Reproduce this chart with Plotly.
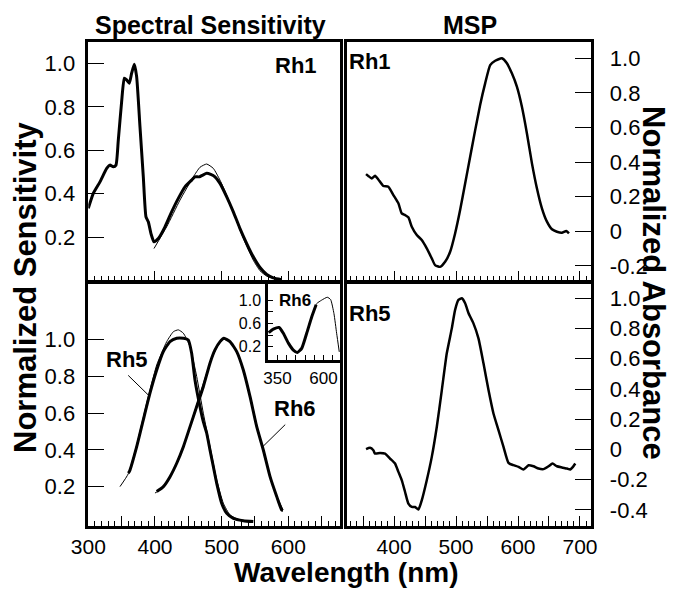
import plotly.graph_objects as go

# ---------------- data ----------------
# Top-left: Rh1 spectral sensitivity (thick = measured, thin = template)
rh1_ss_wl = [300, 307.5, 317.5, 327.6, 332.5, 337.5, 341.5, 345, 350, 354, 357.5, 361.5, 365, 369, 372.5,
             377.5, 382.5, 386.5, 390, 394, 398.5, 405, 415, 425, 435, 445, 455, 460, 466.5, 471.6, 477.6,
             483.6, 490, 497.5, 507.6, 517.5, 527.5, 537.6, 547.5, 557.5, 567.6, 577.5, 590]
rh1_ss_val = [0.333, 0.402, 0.455, 0.517, 0.532, 0.524, 0.532, 0.647, 0.824, 0.932, 0.924, 0.909, 0.955, 0.996, 0.939,
              0.709, 0.478, 0.294, 0.271, 0.217, 0.179, 0.194, 0.248, 0.317, 0.379, 0.432, 0.463, 0.478, 0.478, 0.486, 0.494,
              0.489, 0.478, 0.448, 0.386, 0.317, 0.240, 0.171, 0.110, 0.061, 0.029, 0.013, 0.005]
rh1_tpl_wl = [398.5, 417.5, 437.5, 457.5, 467.5, 477.5, 487.5, 497.5, 507.5, 517.5, 527.5, 537.5, 547.5, 557.5, 567.5, 577.5, 590]
rh1_tpl_val = [0.148, 0.248, 0.371, 0.478, 0.522, 0.537, 0.517, 0.463, 0.394, 0.317, 0.233, 0.159, 0.094, 0.046, 0.021, 0.011, 0.005]

# Bottom-left: Rh5 and Rh6 spectral sensitivity
rh5_ss_wl = [360, 362, 372.6, 382.5, 392.5, 402.6, 412.5, 422.5, 432.6, 442.5, 450, 455, 460, 467.5, 472.5, 477.6,
             482.5, 487.5, 492.6, 500, 507.6, 517.5, 532.5, 547.5]
rh5_ss_val = [0.273, 0.285, 0.417, 0.563, 0.708, 0.834, 0.934, 0.988, 1.006, 1.006, 0.997, 0.925, 0.780, 0.635, 0.553, 0.490,
              0.399, 0.309, 0.218, 0.110, 0.055, 0.028, 0.015, 0.010]
rh5_tpl_wl = [347.5, 360, 372.5, 387.5, 402.6, 417.6, 427.6, 435, 442.5, 452.5, 462.6, 472.5, 482.6, 492.6, 502.5, 512.5, 527.5, 545]
rh5_tpl_val = [0.200, 0.270, 0.426, 0.653, 0.861, 0.988, 1.042, 1.052, 1.034, 0.961, 0.798, 0.599, 0.417, 0.236, 0.110, 0.046, 0.018, 0.010]

rh6_ss_wl = [402.6, 412.6, 422.6, 432.6, 442.6, 452.6, 462.6, 472.5, 482.5, 490, 497.6, 503.5, 512.5, 522.6, 532.5,
             542.6, 552.6, 562.5, 572.6, 582.6, 590, 592]
rh6_ss_val = [0.173, 0.200, 0.254, 0.327, 0.417, 0.526, 0.635, 0.743, 0.871, 0.943, 0.988, 1.006, 0.988, 0.934, 0.834,
              0.689, 0.526, 0.399, 0.254, 0.146, 0.073, 0.070]
rh6_tpl_wl = [400, 412.6, 422.6, 432.6, 442.6, 452.6, 462.6, 472.5, 482.5, 492.5, 502.5, 512.5, 522.6, 532.5, 542.6,
              552.6, 562.5, 572.6, 582.6, 592]
rh6_tpl_val = [0.165, 0.195, 0.250, 0.325, 0.420, 0.530, 0.645, 0.760, 0.870, 0.955, 1.000, 0.990, 0.935, 0.835, 0.695,
               0.535, 0.390, 0.255, 0.150, 0.075]

# Inset: Rh6 broad-range sensitivity
ins_tpl_wl = [302, 327, 358, 381.5, 409, 436, 457.6, 481.5, 508.7, 535.9, 563, 590, 620.7, 639, 657, 671.7, 686]
ins_tpl_val = [0.44, 0.50, 0.53, 0.43, 0.26, 0.14, 0.10, 0.17, 0.43, 0.71, 0.94, 1.00, 1.05, 1.01, 0.77, 0.43, 0.11]
ins_ss_wl = [302, 327, 358, 381.5, 409, 436, 457.6, 481.5, 508.7, 535.9, 560]
ins_ss_val = [0.44, 0.50, 0.53, 0.43, 0.26, 0.14, 0.10, 0.17, 0.43, 0.71, 0.92]

# Top-right: Rh1 MSP
rh1_msp_wl = [354.8, 358.5, 364, 369.3, 374.6, 382.7, 390.8, 398.9, 407, 412.4, 417.8, 423.1, 428.6, 436.7, 444.7,
              452.8, 460.9, 466.2, 474.3, 482.4, 490.5, 498.5, 506.6, 514.7, 522.8, 530.9, 538.9, 547, 555.1,
              563.2, 574, 582.1, 590.1, 598.2, 606.3, 614.4, 622.5, 630.5, 638.6, 646.7, 654.8, 662.8, 670.9,
              677.9, 682.2]
rh1_msp_val = [0.331, 0.320, 0.306, 0.321, 0.300, 0.262, 0.258, 0.210, 0.162, 0.104, 0.094, 0.081, 0.027, -0.021, -0.050,
               -0.098, -0.156, -0.195, -0.205, -0.176, -0.118, -0.012, 0.123, 0.277, 0.431, 0.585, 0.730, 0.855, 0.961,
               0.986, 1.000, 0.971, 0.913, 0.836, 0.720, 0.566, 0.393, 0.249, 0.133, 0.056, 0.012, -0.002, -0.008,
               0.002, -0.012]

# Bottom-right: Rh5 MSP
rh5_msp_wl = [354.8, 361.2, 366.6, 369.3, 377.4, 385.5, 393.5, 401.6, 407, 412.4, 417.8, 423.1, 428.6, 433.9, 439.3,
              444.7, 452.8, 460.9, 469, 477.1, 485.1, 493.2, 498.5, 503.9, 509.4, 514.7, 520.2, 528.1, 536.2,
              544.3, 552.4, 560.4, 568.5, 576.6, 584.7, 592.7, 600.8, 608.9, 617, 625, 633.1, 641.2, 649.3,
              655.7, 662.8, 670.9, 679, 684.3, 688.7, 692.4]
rh5_msp_val = [0.002, 0.011, -0.005, -0.027, -0.023, -0.027, -0.060, -0.093, -0.148, -0.203, -0.281, -0.358, -0.380, -0.380, -0.397,
               -0.336, -0.203, -0.049, 0.150, 0.393, 0.636, 0.801, 0.923, 0.989, 1.000, 0.967, 0.901, 0.834, 0.735,
               0.570, 0.393, 0.238, 0.128, 0.017, -0.089, -0.104, -0.115, -0.132, -0.104, -0.111, -0.126, -0.130, -0.111,
               -0.093, -0.111, -0.119, -0.126, -0.132, -0.115, -0.093]

# ticks
left_x_ticks = [300, 350, 400, 450, 500, 550, 600, 650]
left_x_text = ["300", "", "400", "", "500", "", "600", ""]
right_x_ticks = [350, 400, 450, 500, 550, 600, 650, 700]
right_x_text = ["", "400", "", "500", "", "600", "", "700"]
ss_y_ticks = [0.2, 0.4, 0.6, 0.8, 1.0]
ss_y_text = ["0.2", "0.4", "0.6", "0.8", "1.0"]
msp1_y_ticks = [-0.2, 0, 0.2, 0.4, 0.6, 0.8, 1.0]
msp1_y_text = ["-0.2", "0", "0.2", "0.4", "0.6", "0.8", "1.0"]
msp5_y_ticks = [-0.4, -0.2, 0, 0.2, 0.4, 0.6, 0.8, 1.0]
msp5_y_text = ["-0.4", "-0.2", "0", "0.2", "0.4", "0.6", "0.8", "1.0"]
ins_x_ticks = [350, 400, 450, 500, 550, 600, 650]
ins_x_text = ["350", "", "", "", "", "600", ""]
ins_y_ticks = [0.2, 0.4, 0.6, 0.8, 1.0]
ins_y_text = ["0.2", "", "0.6", "", "1.0"]

# ---------------- figure ----------------
FONT = "Liberation Sans, Arial, sans-serif"
W, H = 673, 589
fig = go.Figure()

def line(x, y, xa, ya, w):
    fig.add_trace(go.Scatter(x=x, y=y, xaxis=xa, yaxis=ya, mode="lines",
                             line=dict(color="black", width=w, shape="spline", smoothing=0.5),
                             showlegend=False, hoverinfo="skip"))

line(rh1_tpl_wl, rh1_tpl_val, "x", "y", 1)
line(rh1_ss_wl, rh1_ss_val, "x", "y", 3)
line(rh5_tpl_wl, rh5_tpl_val, "x2", "y2", 1)
line(rh5_ss_wl, rh5_ss_val, "x2", "y2", 3)
line(rh6_tpl_wl, rh6_tpl_val, "x2", "y2", 1)
line(rh6_ss_wl, rh6_ss_val, "x2", "y2", 3)
line(rh1_msp_wl, rh1_msp_val, "x3", "y3", 2.5)
line(rh5_msp_wl, rh5_msp_val, "x4", "y4", 2.5)
line(ins_tpl_wl, ins_tpl_val, "x5", "y5", 1)
line(ins_ss_wl, ins_ss_val, "x5", "y5", 3)

def px_x(a, b):
    return [a / W, b / W]

def px_y(top, bot):
    return [1 - bot / H, 1 - top / H]

dom_xl = px_x(88.3, 340)
dom_xr = px_x(346.7, 590.7)
dom_yt = px_y(41.7, 280.7)
dom_yb = px_y(283.3, 526)

tickfont = dict(family=FONT, size=22, color="black")
xtickfont = dict(family=FONT, size=21, color="black")
minor_l = dict(ticks="inside", ticklen=5, tickwidth=1, tickcolor="black", tickmode="linear", tick0=300, dtick=10)

def xax(dom, rng, anchor, tv, tt, labels):
    return dict(domain=dom, range=rng, anchor=anchor, showline=True, linewidth=2.5, linecolor="black",
                mirror=True, ticks="inside", ticklen=10, tickwidth=1.2, tickcolor="black",
                tickmode="array", tickvals=tv, ticktext=tt, showticklabels=labels, automargin=False,
                showgrid=False, zeroline=False, tickfont=xtickfont, ticklabelstandoff=0,
                minor=minor_l)

def yax(dom, rng, anchor, tv, tt, side):
    return dict(domain=dom, range=rng, anchor=anchor, side=side, showline=True, linewidth=2.5, linecolor="black",
                mirror=True, ticks="inside", ticklen=16, tickwidth=1.2, tickcolor="black", automargin=False,
                tickmode="array", tickvals=tv, ticktext=tt, showgrid=False, zeroline=False,
                tickfont=tickfont, ticklabelstandoff=6 if side == "left" else 12)

fig.update_layout(
    template="none",
    width=W, height=H, autosize=False,
    margin=dict(l=0, r=0, t=0, b=0, pad=0),
    paper_bgcolor="white", plot_bgcolor="rgba(0,0,0,0)",
    font=dict(family=FONT, color="black"),
    xaxis=xax(dom_xl, [300, 677.5], "y", left_x_ticks, left_x_text, False),
    yaxis=yax(dom_yt, [0, 1.10], "x", ss_y_ticks, ss_y_text, "left"),
    xaxis2=xax(dom_xl, [300, 677.5], "y2", left_x_ticks, left_x_text, True),
    yaxis2=yax(dom_yb, [-0.014, 1.305], "x2", ss_y_ticks, ss_y_text, "left"),
    xaxis3=xax(dom_xr, [323.6, 717.3], "y3", right_x_ticks, right_x_text, False),
    yaxis3=yax(dom_yt, [-0.285, 1.096], "x3", msp1_y_ticks, msp1_y_text, "right"),
    xaxis4=xax(dom_xr, [323.6, 717.3], "y4", right_x_ticks, right_x_text, True),
    yaxis4=yax(dom_yb, [-0.506, 1.099], "x4", msp5_y_ticks, msp5_y_text, "right"),
    xaxis5=dict(domain=px_x(268, 340), range=[298, 690], anchor="y5", showline=True, linewidth=2.5,
                linecolor="black", mirror=True, ticks="inside", ticklen=5, tickwidth=1, tickcolor="black",
                tickmode="array", tickvals=ins_x_ticks, ticktext=ins_x_text, showgrid=False, zeroline=False,
                automargin=False,
                tickfont=dict(family=FONT, size=17, color="black"), ticklabelstandoff=1),
    yaxis5=dict(domain=px_y(283.3, 360), range=[-0.03, 1.29], anchor="x5", showline=True, linewidth=2.5,
                linecolor="black", mirror=True, ticks="inside", ticklen=5, tickwidth=1, tickcolor="black",
                tickmode="array", tickvals=ins_y_ticks, ticktext=ins_y_text, showgrid=False, zeroline=False,
                automargin=False,
                tickfont=dict(family=FONT, size=16, color="black"), ticklabelstandoff=1),
)

bold = dict(family=FONT, color="black", weight="bold")
ann = []
def label(text, x, y, xref, yref, size, xanchor="center", yanchor="middle", **kw):
    ann.append(dict(text=text, x=x, y=y, xref=xref, yref=yref, showarrow=False,
                    xanchor=xanchor, yanchor=yanchor,
                    font=dict(bold, size=size), **kw))

label("Rh1", 612, 0.99, "x", "y", 22)
label("Rh5", 357.6, 0.889, "x2", "y2", 22)
label("Rh6", 610, 0.626, "x2", "y2", 22)
label("Rh6", 445, 1.0, "x5", "y5", 17)
label("Rh1", 361, 0.98, "x3", "y3", 22)
label("Rh5", 361, 0.90, "x4", "y4", 22)
label("Spectral Sensitivity", 210 / W, 1 - 25 / H, "paper", "paper", 25)
label("MSP", 470 / W, 1 - 25 / H, "paper", "paper", 25)
label("Wavelength (nm)", 347 / W, 0, "paper", "paper", 28, yanchor="bottom", borderpad=0)
label("Normalized Sensitivity", 25 / W, 1 - 287 / H, "paper", "paper", 31, textangle=-90)
label("Normalized Absorbance", 654 / W, 1 - 283 / H, "paper", "paper", 31, textangle=90)

# leader lines
ann.append(dict(x=392.5, y=0.689, ax=357.6, ay=0.8125, xref="x2", yref="y2", axref="x2", ayref="y2",
                text="", showarrow=True, arrowhead=0, arrowwidth=1, arrowcolor="black", standoff=0, startstandoff=0))
ann.append(dict(x=561.6, y=0.417, ax=597.6, ay=0.545, xref="x2", yref="y2", axref="x2", ayref="y2",
                text="", showarrow=True, arrowhead=0, arrowwidth=1, arrowcolor="black", standoff=0, startstandoff=0))
fig.update_layout(annotations=ann)

fig.write_html("out.html", config={"displayModeBar": False},
               post_script="document.body.style.margin='0';document.body.style.overflow='hidden';")
